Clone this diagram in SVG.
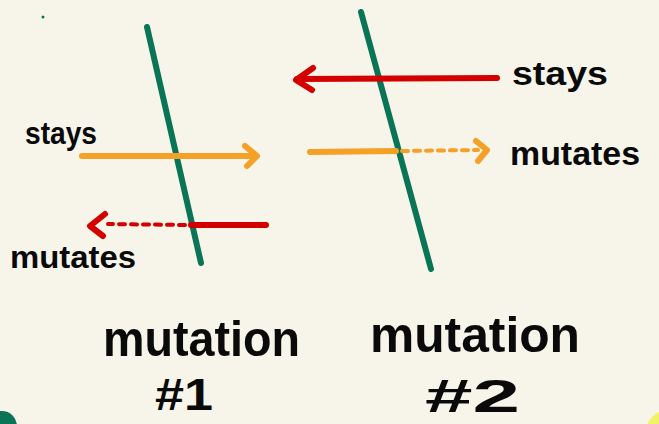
<svg xmlns="http://www.w3.org/2000/svg" width="659" height="424" viewBox="0 0 659 424">
<defs>
<style>
.bg{fill:#f7f5e9}
.axis{stroke:#0a7556;stroke-width:6;stroke-linecap:round;fill:none}
.or{stroke:#f5a027;stroke-width:6;stroke-linecap:round;stroke-linejoin:round;fill:none}
.rd{stroke:#d40000;stroke-width:6;stroke-linecap:round;stroke-linejoin:round;fill:none}
.dash{stroke-width:4;stroke-dasharray:6 6}
.lbl{font-family:"Liberation Sans","DejaVu Sans",sans-serif;font-weight:bold;fill:#0a0a0a}
</style>
</defs>
<rect class="bg" x="0" y="0" width="659" height="424"/>
<circle cx="43" cy="17" r="1.5" fill="#0a7556"/>
<circle cx="2" cy="426" r="15" fill="#0a7556"/>
<circle cx="668" cy="432" r="22" fill="#f2f266"/>
<g id="mutation1">
<line class="axis" x1="147" y1="27" x2="201" y2="263"/>
<text class="lbl" x="103" y="356" font-size="50" textLength="197" lengthAdjust="spacingAndGlyphs">mutation</text>
<text class="lbl" x="155" y="410" font-size="44" textLength="58" lengthAdjust="spacingAndGlyphs">#1</text>
</g>
<g id="mutation2">
<line class="axis" x1="361" y1="12" x2="431" y2="269"/>
<text class="lbl" x="370" y="352" font-size="50" textLength="210" lengthAdjust="spacingAndGlyphs">mutation</text>
<text class="lbl" x="425" y="412" font-size="46" textLength="95" lengthAdjust="spacingAndGlyphs">#2</text>
</g>
<g id="labels">
<text class="lbl" x="25" y="144" font-size="32" textLength="72" lengthAdjust="spacingAndGlyphs">stays</text>
<text class="lbl" x="10" y="268" font-size="32" textLength="126" lengthAdjust="spacingAndGlyphs">mutates</text>
<text class="lbl" x="512" y="85" font-size="34" textLength="96" lengthAdjust="spacingAndGlyphs">stays</text>
<text class="lbl" x="510" y="165" font-size="34" textLength="130" lengthAdjust="spacingAndGlyphs">mutates</text>
</g>
<g id="connectors">
<line class="or" x1="82" y1="156" x2="256" y2="156"/>
<polyline class="or" points="245,146 257,156 247,166"/>
<line class="rd" x1="266" y1="225" x2="191" y2="225"/>
<line class="rd dash" x1="185" y1="225" x2="108" y2="224"/>
<polyline class="rd" points="105,214 90,226 103,236"/>
<line class="rd" x1="497" y1="78" x2="297" y2="79"/>
<polyline class="rd" points="313,68 296,80 312,90"/>
<line class="or" x1="310" y1="152" x2="396" y2="151"/>
<line class="or dash" x1="402" y1="151" x2="478" y2="150"/>
<polyline class="or" points="476,141 487,150 478,161"/>
</g>
</svg>
